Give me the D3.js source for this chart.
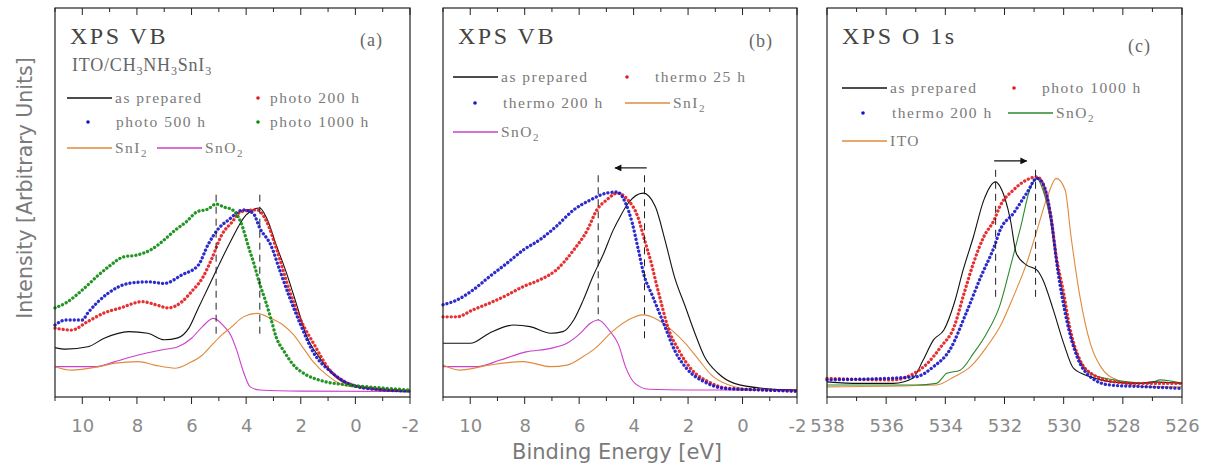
<!DOCTYPE html>
<html><head><meta charset="utf-8">
<script src="https://cdn.jsdelivr.net/npm/d3@7"></script>
<style>body{margin:0;background:#fff}svg{display:block}</style>
</head><body>
<svg id="chart" width="1212" height="475"></svg>
<script>
// ---------- DATA : [binding energy (eV), intensity (arb. units)] ----------
// Panel (a) XPS VB, ITO/CH3NH3SnI3
const a_asPrepared = [[11,12.7],[10.6,12.3],[9.8,12.9],[9.2,15.1],[8.3,16.8],[7.6,16.4],[7.0,14.7],[6.5,15.2],[6.1,17.7],[5.75,22.9],[5.4,28.0],[5.0,33.9],[4.6,39.6],[4.0,46.8],[3.5,48.6],[3.25,46.0],[2.9,39.1],[2.5,31.4],[2.15,23.7],[1.8,15.9],[1.3,10.0],[0.8,5.7],[0.2,3.1],[-0.9,2.1],[-2,1.5]];
const a_photo200 = [[11,17.7],[10.4,17.2],[9.8,19.4],[9.2,21.6],[8.6,22.9],[7.8,24.5],[7.3,23.7],[6.85,22.9],[6.35,24.5],[6.0,27.1],[5.6,30.6],[5.25,35.7],[4.9,41.6],[4.5,45.1],[4.2,47.6],[3.6,48.1],[3.25,45.1],[2.9,38.3],[2.4,27.1],[2.0,19.8],[1.5,13.4],[1.0,7.5],[0.4,3.9],[-0.5,2.3],[-2,1.5]];
const a_photo500 = [[11,18.5],[10.6,19.8],[10.0,19.8],[9.8,21.6],[9.05,26.7],[8.3,29.2],[7.6,29.6],[7.0,29.2],[6.35,31.4],[5.75,33.9],[5.4,39.1],[5.0,43.4],[4.65,45.5],[4.1,48.1],[3.75,47.3],[3.5,43.4],[3.1,39.1],[2.75,32.2],[2.4,25.4],[2.0,18.5],[1.55,11.6],[0.9,6.5],[0.3,3.6],[-0.3,2.3],[-2,1.5]];
const a_photo1000 = [[11,22.9],[10.6,24.2],[10.0,27.5],[9.4,31.4],[9.0,33.7],[8.5,36.0],[8.0,36.5],[7.5,37.8],[7.0,40.4],[6.6,42.9],[6.2,45.0],[5.8,47.6],[5.4,48.3],[5.1,49.6],[4.8,48.8],[4.5,48.1],[4.2,45.0],[3.9,38.3],[3.7,33.9],[3.5,29.0],[3.3,24.9],[3.1,20.3],[2.9,15.4],[2.6,11.6],[2.3,8.5],[1.8,5.7],[1.2,4.1],[0.3,3.1],[-0.5,2.6],[-2,1.8]];
const a_SnI2 = [[11,7.8],[10.4,6.9],[9.4,7.8],[8.8,8.7],[7.95,9.1],[7.35,8.2],[6.6,7.4],[6.1,8.7],[5.6,10.8],[5.25,13.4],[4.9,15.9],[4.55,17.9],[4.1,20.6],[3.6,21.5],[3.1,20.2],[2.65,18.5],[2.25,15.9],[1.9,12.5],[1.55,9.1],[1.05,5.7],[0.45,3.1],[-0.3,2.3],[-2,1.5]];
const a_SnO2 = [[11,7.8],[9.5,7.8],[8.8,9.1],[7.95,10.8],[7.1,12.1],[6.5,12.9],[6.0,15.1],[5.6,18.1],[5.2,20.2],[4.8,18.1],[4.55,15.7],[4.35,12.1],[4.1,6.5],[3.85,2.6],[3.5,1.8],[2.0,1.5],[-2,1.4]];
const a_markers = [5.1, 3.5];

// Panel (b) XPS VB, thermal
const b_asPrepared = [[11,13.8],[10.0,13.8],[9.3,16.4],[8.4,18.5],[7.8,18.1],[7.05,16.4],[6.6,16.8],[6.2,19.8],[5.85,24.9],[5.5,30.9],[5.1,36.9],[4.75,42.9],[4.5,46.3],[4.2,49.8],[3.65,52.4],[3.2,48.9],[2.85,40.4],[2.5,30.9],[2.1,23.2],[1.75,16.4],[1.4,10.4],[0.9,6.1],[0.3,3.5],[-0.8,2.2],[-2,1.8]];
const b_thermo25 = [[11,20.6],[10.5,20.6],[9.9,22.4],[9.3,24.1],[8.65,26.2],[8.05,28.4],[7.45,30.1],[6.85,32.6],[6.2,37.8],[5.7,42.9],[5.35,48.1],[5.0,50.6],[4.6,52.4],[4.2,50.6],[3.85,46.4],[3.6,40.4],[3.35,34.4],[3.2,30.1],[2.95,23.2],[2.75,18.1],[2.35,12.1],[1.85,6.9],[1.25,3.9],[0.6,2.3],[-0.8,1.8],[-2,1.5]];
const b_thermo200 = [[11,23.7],[10.5,24.9],[9.9,27.5],[9.3,30.9],[8.65,34.4],[8.05,37.8],[7.45,40.4],[6.85,43.8],[6.2,48.1],[5.6,50.6],[5.0,52.4],[4.6,52.7],[4.3,49.9],[4.05,44.7],[3.85,38.6],[3.6,30.9],[3.35,26.7],[3.1,22.4],[2.85,18.1],[2.5,12.1],[2.0,6.9],[1.4,3.9],[0.65,2.2],[-0.8,1.8],[-2,1.5]];
const b_SnI2 = [[11,8.2],[10.4,6.9],[9.3,8.2],[8.05,9.1],[7.05,7.8],[6.45,8.2],[5.85,10.4],[5.35,12.9],[4.85,16.4],[4.6,17.9],[4.2,19.8],[3.65,21.1],[3.1,19.8],[2.6,17.2],[2.1,13.8],[1.6,9.5],[1.15,5.7],[0.5,3.1],[-0.4,2.0],[-2,1.8]];
const b_SnO2 = [[11,7.8],[9.75,7.8],[8.9,9.5],[7.95,11.6],[7.05,12.5],[6.45,13.8],[5.95,16.4],[5.6,18.9],[5.3,19.8],[4.9,17.2],[4.55,13.4],[4.3,7.8],[3.95,3.5],[3.45,2.0],[2.0,1.8],[-2,1.8]];
const b_markers = [5.3, 3.6];

// Panel (c) XPS O 1s
const c_asPrepared = [[538,3.9],[536.9,3.5],[535.75,3.5],[535.1,4.8],[534.75,9.5],[534.4,14.7],[534.05,17.2],[533.7,24.1],[533.4,32.6],[533.05,41.2],[532.7,50.6],[532.3,55.3],[532.15,54.1],[531.8,45.5],[531.6,36.9],[531.25,33.9],[530.9,32.6],[530.7,30.1],[530.35,22.4],[530.0,13.8],[529.67,7.4],[529.1,5.2],[528.4,3.9],[527.4,3.5],[527.0,3.9],[526,3.5]];
const c_photo1000 = [[538,4.8],[535.75,4.4],[535.05,6.1],[534.6,8.7],[534.15,12.9],[533.7,18.1],[533.4,25.8],[533.05,34.4],[532.7,41.2],[532.35,45.5],[532.15,49.1],[531.7,53.2],[531.25,55.8],[530.9,56.6],[530.45,47.2],[530.25,36.1],[530.0,26.7],[529.8,18.1],[529.45,9.5],[529.0,5.7],[528.3,3.9],[527.6,3.5],[526,3.5]];
const c_thermo200 = [[538,4.4],[535.0,5.2],[534.4,7.8],[533.85,12.1],[533.3,21.5],[532.8,30.9],[532.35,38.6],[532.15,42.9],[531.7,47.2],[531.25,52.4],[530.9,56.2],[530.7,54.9],[530.45,47.2],[530.2,32.6],[529.9,19.8],[529.55,10.4],[529.1,5.2],[528.45,3.1],[527.1,2.6],[526,2.2]];
const c_SnO2 = [[538,3.1],[535.0,3.1],[534.3,3.5],[533.95,6.1],[533.5,6.9],[533.05,11.2],[532.6,16.4],[532.15,23.7],[531.8,33.5],[531.45,43.8],[531.15,53.2],[530.9,56.2],[530.7,53.2],[530.45,45.5],[530.25,35.2],[530.0,25.8],[529.8,17.2],[529.45,9.5],[529.0,5.7],[528.3,4.4],[527.1,3.5],[526.75,4.4],[526,3.5]];
const c_ITO = [[538,2.6],[534.3,3.1],[533.7,5.2],[533.15,7.8],[532.6,12.9],[532.15,18.1],[531.7,25.8],[531.25,34.4],[530.9,42.9],[530.55,51.5],[530.25,56.2],[529.95,53.2],[529.75,41.2],[529.45,25.8],[529.1,13.8],[528.75,7.8],[528.2,4.4],[527.1,2.6],[526,2.6]];
const c_markers = [532.3, 530.95];

// tick labels
const vbTicks = [10, 8, 6, 4, 2, 0, -2];
const o1sTicks = [538, 536, 534, 532, 530, 528, 526];

// ---------- LAYOUT ----------
const svg = d3.select("#chart");
const TOP = 8, BOTTOM = 397;
const y = d3.scaleLinear().domain([0, 100]).range([BOTTOM, TOP]);
const COL = {black:"#111", red:"#e41a1c", blue:"#1515c8", green:"#0a8a0a", orange:"#e08a3c", magenta:"#cc3fcc", dgreen:"#2a8a2a"};
const serif = "'Liberation Serif','DejaVu Serif',serif";
const sans = "'DejaVu Sans','Liberation Sans',sans-serif";

const panels = [
  {x0:55, x1:410, dom:[11,-2], ticks:vbTicks, minorStep:1, title:"XPS VB", tag:"(a)", tagX:360, tagY:46,
   markers:a_markers, markTop:52, markBot:15.2, arrow:null,
   series:[
     {d:a_SnO2, c:COL.magenta, t:"line"},
     {d:a_SnI2, c:COL.orange, t:"line"},
     {d:a_asPrepared, c:COL.black, t:"line"},
     {d:a_photo200, c:COL.red, t:"dot"},
     {d:a_photo500, c:COL.blue, t:"dot"},
     {d:a_photo1000, c:COL.green, t:"dot"}],
   legend:[
     {t:"line", c:COL.black, x:12, y:98, label:"as prepared"},
     {t:"dot", c:COL.red, x:203, y:98, tx:215, label:"photo 200 h"},
     {t:"dot", c:COL.blue, x:33, y:122, tx:61, label:"photo 500 h"},
     {t:"dot", c:COL.green, x:203, y:122, tx:215, label:"photo 1000 h"},
     {t:"line", c:COL.orange, x:12, y:148, label:"SnI", sub:"2"},
     {t:"line", c:COL.magenta, x:102, y:148, label:"SnO", sub:"2"}]},
  {x0:443, x1:797, dom:[11,-2], ticks:vbTicks, minorStep:1, title:"XPS VB", tag:"(b)", tagX:749, tagY:47,
   markers:b_markers, markTop:57, markBot:[19.8,13.9], arrow:{from:3.52, to:4.68, yv:58.9},
   series:[
     {d:b_SnO2, c:COL.magenta, t:"line"},
     {d:b_SnI2, c:COL.orange, t:"line"},
     {d:b_asPrepared, c:COL.black, t:"line"},
     {d:b_thermo25, c:COL.red, t:"dot"},
     {d:b_thermo200, c:COL.blue, t:"dot"}],
   legend:[
     {t:"line", c:COL.black, x:10, y:77, label:"as prepared"},
     {t:"dot", c:COL.red, x:184, y:77, tx:212, label:"thermo 25 h"},
     {t:"dot", c:COL.blue, x:32, y:103, tx:60, label:"thermo 200 h"},
     {t:"line", c:COL.orange, x:182, y:103, label:"SnI", sub:"2"},
     {t:"line", c:COL.magenta, x:10, y:132, label:"SnO", sub:"2"}]},
  {x0:827, x1:1182, dom:[538,526], ticks:o1sTicks, minorStep:1, title:"XPS O 1s", tag:"(c)", tagX:1128, tagY:52,
   markers:c_markers, markTop:58.4, markBot:[25.4,24.9], arrow:{from:532.35, to:531.25, yv:60.7},
   series:[
     {d:c_ITO, c:COL.orange, t:"line"},
     {d:c_SnO2, c:COL.dgreen, t:"line"},
     {d:c_asPrepared, c:COL.black, t:"line"},
     {d:c_photo1000, c:COL.red, t:"dot"},
     {d:c_thermo200, c:COL.blue, t:"dot"}],
   legend:[
     {t:"line", c:COL.black, x:15, y:88, label:"as prepared"},
     {t:"dot", c:COL.red, x:187, y:88, tx:215, label:"photo 1000 h"},
     {t:"dot", c:COL.blue, x:36, y:113, tx:65, label:"thermo 200 h"},
     {t:"line", c:COL.dgreen, x:181, y:113, label:"SnO", sub:"2"},
     {t:"line", c:COL.orange, x:15, y:141, label:"ITO"}]}
];

svg.append("defs").append("marker").attr("id","ah").attr("viewBox","0 0 10 10")
  .attr("refX",9).attr("refY",5).attr("markerWidth",9).attr("markerHeight",7)
  .attr("markerUnits","userSpaceOnUse").attr("orient","auto")
  .append("path").attr("d","M0,0L10,5L0,10z").attr("fill","#111");

panels.forEach(p => {
  const x = d3.scaleLinear().domain(p.dom).range([p.x0, p.x1]);
  const g = svg.append("g");
  const line = d3.line().x(d => x(d[0])).y(d => y(d[1])).curve(d3.curveMonotoneX);

  // series
  p.series.forEach(s => {
    const path = g.append("path").datum(s.d).attr("d", line).attr("fill","none").attr("stroke", s.c);
    if (s.t === "line") path.attr("stroke-width", 1.1);
    else path.attr("stroke-width", 3.3).attr("stroke-linecap","round").attr("stroke-dasharray","0.1 4").attr("opacity",0.9);
  });

  // dashed markers
  p.markers.forEach((m, i) => {
    const bot = Array.isArray(p.markBot) ? p.markBot[i] : p.markBot;
    g.append("line").attr("x1", x(m)).attr("x2", x(m)).attr("y1", y(p.markTop)).attr("y2", y(bot))
      .attr("stroke","#222").attr("stroke-width",1).attr("stroke-dasharray","7 5");
  });
  if (p.arrow) {
    g.append("line").attr("x1", x(p.arrow.from)).attr("x2", x(p.arrow.to))
      .attr("y1", y(p.arrow.yv)).attr("y2", y(p.arrow.yv))
      .attr("stroke","#111").attr("stroke-width",1.2).attr("marker-end","url(#ah)");
  }

  // frame
  g.append("rect").attr("x", p.x0).attr("y", TOP).attr("width", p.x1 - p.x0).attr("height", BOTTOM - TOP)
    .attr("fill","none").attr("stroke","#222").attr("stroke-width",1.2);

  // ticks (bottom outward, top inward; majors every 2, minors every 1)
  const lo = Math.min(...p.dom), hi = Math.max(...p.dom);
  const minor = d3.range(lo, hi + 0.001, p.minorStep);
  minor.forEach(v => {
    const len = p.ticks.includes(v) ? 7 : 4;
    g.append("line").attr("x1", x(v)).attr("x2", x(v)).attr("y1", BOTTOM).attr("y2", BOTTOM + len).attr("stroke","#222");
    g.append("line").attr("x1", x(v)).attr("x2", x(v)).attr("y1", TOP).attr("y2", TOP + len).attr("stroke","#222");
  });
  const ax = g.append("g").attr("transform", `translate(0,${BOTTOM})`)
    .call(d3.axisBottom(x).tickValues(p.ticks).tickSize(0).tickPadding(0).tickFormat(d => String(d)));
  ax.select(".domain").remove();
  ax.selectAll("text").attr("dy", null).attr("y", 35).attr("fill","#8a8a8a")
    .style("font-family", sans).style("font-size","18px");

  // title & tag
  g.append("text").attr("x", p.x0 + 15).attr("y", 44).text(p.title)
    .attr("fill","#444").style("font-family", serif).style("font-size","24px").style("letter-spacing","2.5px");
  g.append("text").attr("x", p.tagX).attr("y", p.tagY).text(p.tag)
    .attr("fill","#666").style("font-family", serif).style("font-size","18px").style("letter-spacing","1px");

  // legend
  p.legend.forEach(L => {
    let tx;
    if (L.t === "line") {
      g.append("line").attr("x1", p.x0 + L.x).attr("x2", p.x0 + L.x + 45).attr("y1", L.y).attr("y2", L.y)
        .attr("stroke", L.c).attr("stroke-width", 1.3);
      tx = p.x0 + L.x + 48;
    } else {
      g.append("circle").attr("cx", p.x0 + L.x).attr("cy", L.y).attr("r", 1.8).attr("fill", L.c);
      tx = p.x0 + L.tx;
    }
    const t = g.append("text").attr("x", tx).attr("y", L.y + 5).attr("fill", "#7a7a7a")
      .style("font-family", serif).style("font-size","15.5px").style("letter-spacing","1.5px");
    t.append("tspan").text(L.label);
    if (L.sub) t.append("tspan").attr("dy", 4).style("font-size","11px").text(L.sub);
  });
});

// subtitle panel (a)
const st = svg.append("text").attr("x", 72).attr("y", 75).attr("fill","#666")
  .style("font-family", serif).style("font-size","18px").style("letter-spacing","0.8px");
[["ITO/CH",""],["3","s"],["NH",""],["3","s"],["SnI",""],["3","s"]].forEach(([s,k]) => {
  if (k) st.append("tspan").attr("dy", 4).style("font-size","12px").text(s);
  else st.append("tspan").attr("dy", st.selectAll("tspan").size() ? -4 : 0).text(s);
});

// axis titles
svg.append("text").attr("transform","translate(32,188) rotate(-90)").attr("text-anchor","middle")
  .attr("fill","#7a7a7a").style("font-family", sans).style("font-size","20.5px")
  .text("Intensity [Arbitrary Units]");
svg.append("text").attr("x", 617).attr("y", 459).attr("text-anchor","middle")
  .attr("fill","#7a7a7a").style("font-family", sans).style("font-size","21px")
  .text("Binding Energy [eV]");
</script>
</body></html>
